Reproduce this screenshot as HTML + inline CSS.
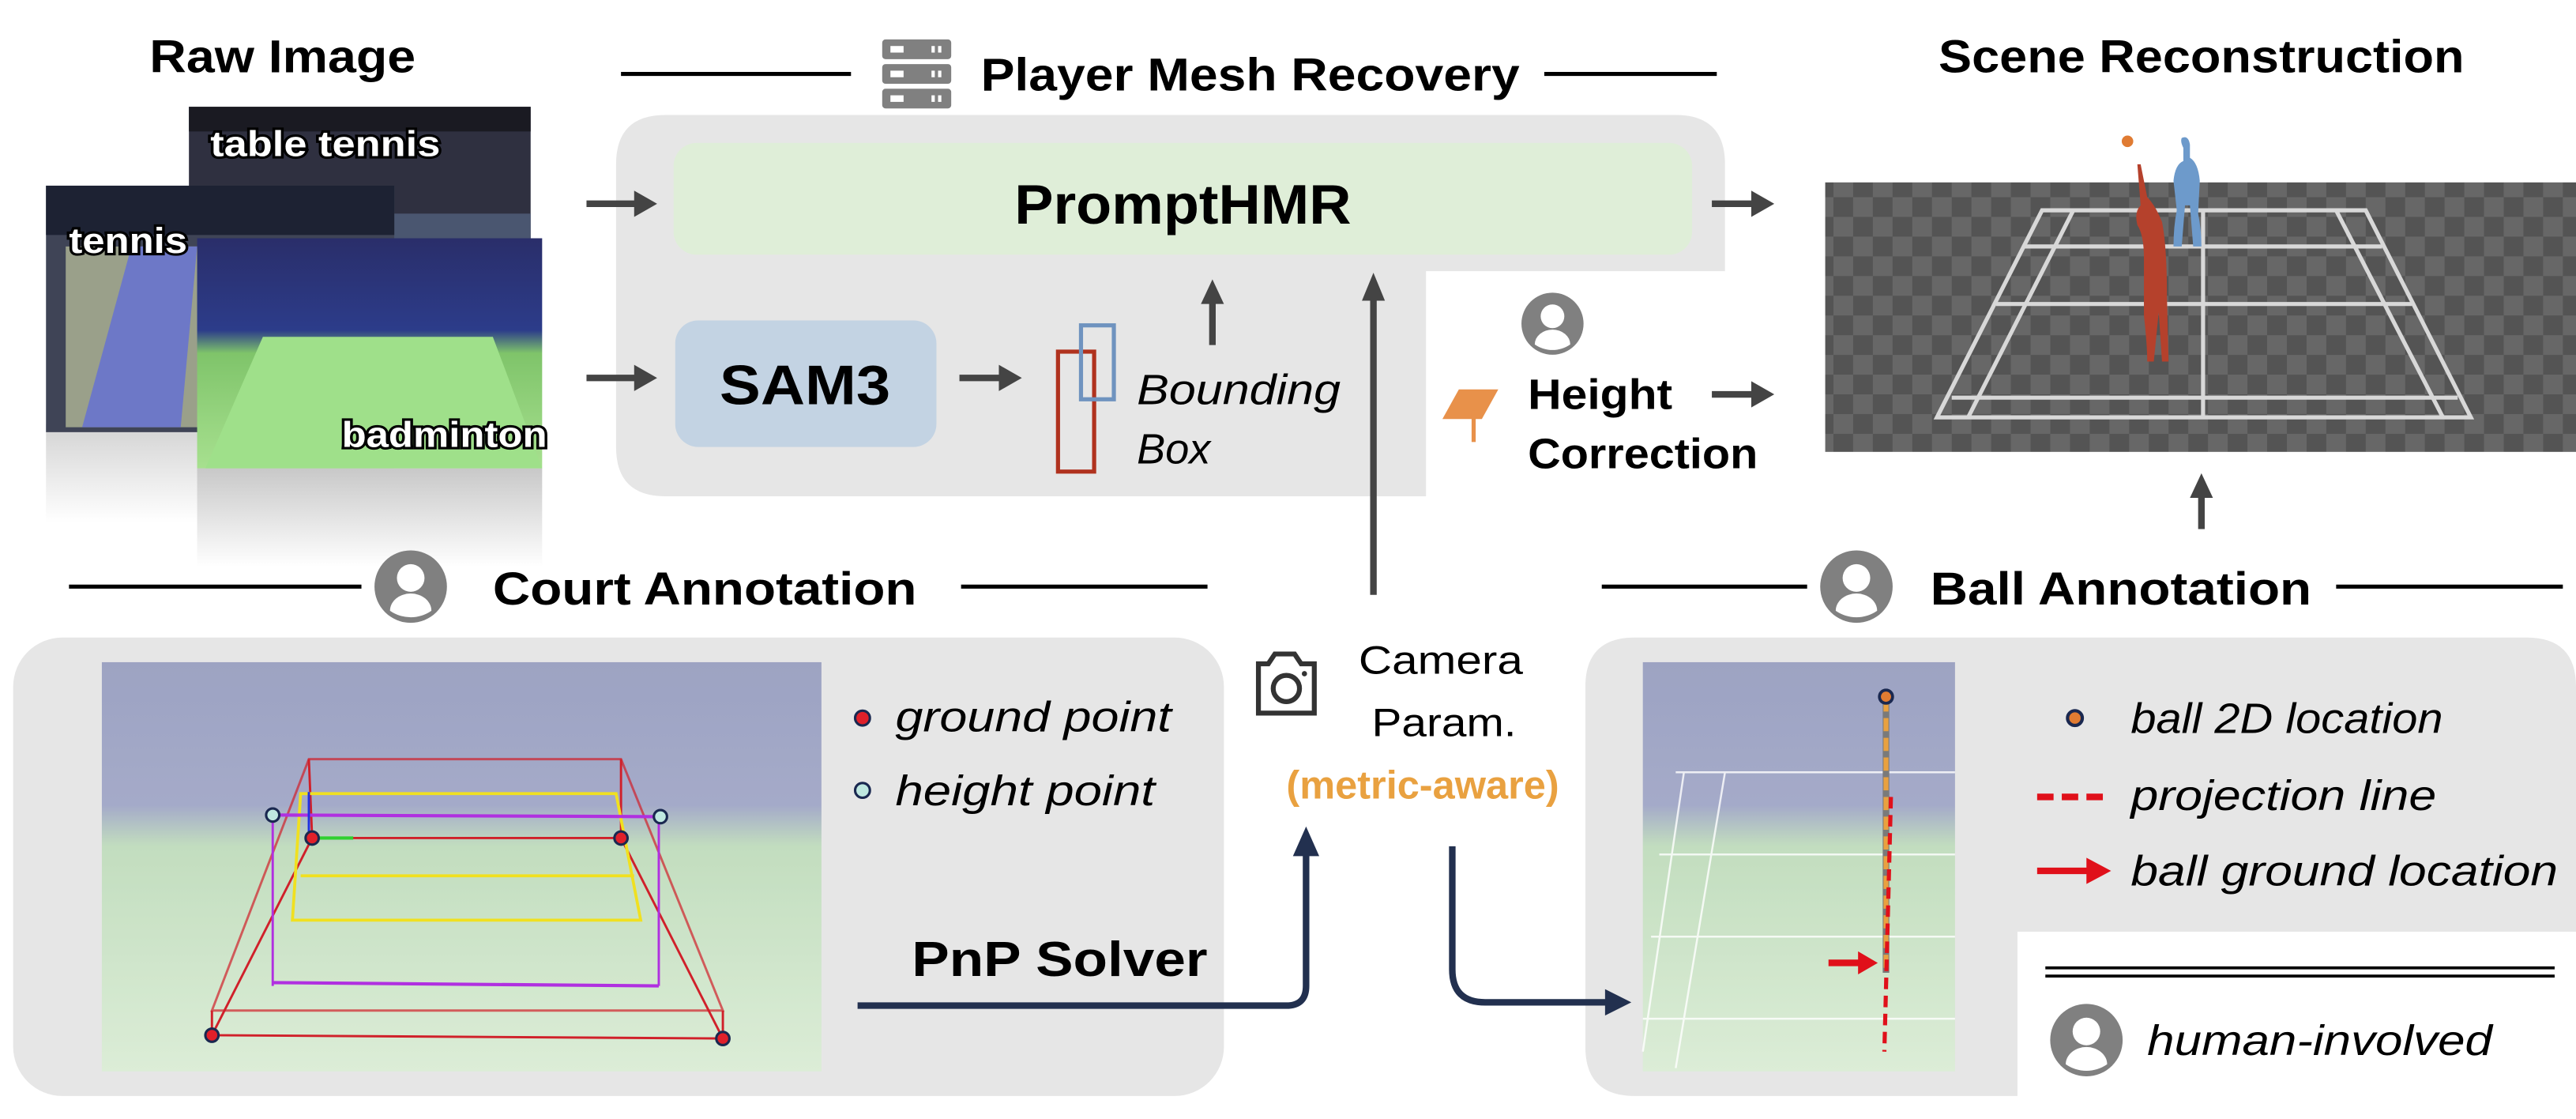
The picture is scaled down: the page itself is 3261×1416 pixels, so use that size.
<!DOCTYPE html>
<html><head><meta charset="utf-8"><style>
html,body{margin:0;padding:0;background:#fff;}
svg{display:block}
text{font-family:"Liberation Sans",sans-serif;}
.b{font-weight:bold}
.i{font-style:italic}
</style></head><body>
<svg width="3261" height="1416" viewBox="0 0 1568 681" preserveAspectRatio="none" xmlns="http://www.w3.org/2000/svg">
<defs>
<pattern id="chk" width="24" height="24" patternUnits="userSpaceOnUse">
<rect width="24" height="24" fill="#545454"/><rect width="12" height="12" fill="#676767"/><rect x="12" y="12" width="12" height="12" fill="#676767"/>
</pattern>
<linearGradient id="refl" x1="0" y1="0" x2="0" y2="1"><stop offset="0" stop-color="#c8c8c8"/><stop offset="1" stop-color="#fff"/></linearGradient>
<linearGradient id="court" x1="0" y1="0" x2="0" y2="1"><stop offset="0" stop-color="#8c93b8"/><stop offset="0.35" stop-color="#959cc0"/><stop offset="0.45" stop-color="#b8d8b4"/><stop offset="1" stop-color="#d6ead0"/></linearGradient>
<linearGradient id="bad" x1="0" y1="0" x2="0" y2="1"><stop offset="0" stop-color="#2a2e6a"/><stop offset="0.4" stop-color="#2c3c8a"/><stop offset="0.5" stop-color="#7fc46a"/><stop offset="1" stop-color="#a7e08f"/></linearGradient>
<g id="person"><circle r="21" fill="#808080"/><circle cy="-5" r="8" fill="#fff"/><path d="M-12 14 A12 10 0 0 1 12 14 A21 21 0 0 1 -12 14Z" fill="#fff"/></g>
</defs>

<!-- Headers -->
<text x="172" y="44" class="b" font-size="28" text-anchor="middle" textLength="162" lengthAdjust="spacingAndGlyphs">Raw Image</text>
<line x1="378" y1="45" x2="518" y2="45" stroke="#000" stroke-width="2.5"/>
<g fill="#808080"><rect x="537" y="24" width="42" height="12" rx="2"/><rect x="537" y="39" width="42" height="12" rx="2"/><rect x="537" y="54" width="42" height="12" rx="2"/></g>
<g fill="#fff"><rect x="542" y="28" width="8" height="4"/><rect x="542" y="43" width="8" height="4"/><rect x="542" y="58" width="8" height="4"/><rect x="567" y="28" width="2" height="4"/><rect x="571" y="28" width="2" height="4"/><rect x="567" y="43" width="2" height="4"/><rect x="571" y="43" width="2" height="4"/><rect x="567" y="58" width="2" height="4"/><rect x="571" y="58" width="2" height="4"/></g>
<text x="597" y="55" class="b" font-size="28" textLength="328" lengthAdjust="spacingAndGlyphs">Player Mesh Recovery</text>
<line x1="940" y1="45" x2="1045" y2="45" stroke="#000" stroke-width="2.5"/>
<text x="1340" y="44" class="b" font-size="28" text-anchor="middle" textLength="320" lengthAdjust="spacingAndGlyphs">Scene Reconstruction</text>

<!-- Raw images -->
<rect x="28" y="258" width="212" height="60" fill="url(#refl)" opacity="0.8"/>
<rect x="120" y="285" width="210" height="60" fill="url(#refl)"/>
<rect x="115" y="65" width="208" height="120" fill="#2f3040"/>
<rect x="115" y="65" width="208" height="15" fill="#1a1a22"/>
<rect x="200" y="130" width="123" height="55" fill="#4a5670"/>
<rect x="28" y="113" width="212" height="150" fill="#3f4456"/>
<rect x="28" y="113" width="212" height="30" fill="#1d2233"/>
<rect x="40" y="150" width="190" height="110" fill="#9aa08a"/>
<polygon points="80,150 120,150 110,260 50,260" fill="#6d78c7"/>
<rect x="120" y="145" width="210" height="140" fill="url(#bad)"/>
<polygon points="160,205 300,205 330,285 125,285" fill="#9fe08a"/>
<g font-weight="bold" font-size="22" fill="#fff" stroke="#000" stroke-width="3" paint-order="stroke">
<text x="128" y="95" textLength="140" lengthAdjust="spacingAndGlyphs">table tennis</text>
<text x="42" y="154" textLength="72" lengthAdjust="spacingAndGlyphs">tennis</text>
<text x="208" y="272" textLength="125" lengthAdjust="spacingAndGlyphs">badminton</text>
</g>

<!-- Player mesh panel -->
<path d="M405 70 H1020 Q1050 70 1050 100 V165 H868 V302 H405 Q375 302 375 272 V100 Q375 70 405 70Z" fill="#e6e6e6"/>
<rect x="410" y="87" width="620" height="68" rx="14" fill="#dfeed8"/>
<text x="720" y="136" class="b" font-size="34" text-anchor="middle" font-family="DejaVu Sans" textLength="205" lengthAdjust="spacingAndGlyphs">PromptHMR</text>
<rect x="411" y="195" width="159" height="77" rx="14" fill="#c3d3e3"/>
<text x="490" y="246" class="b" font-size="34" text-anchor="middle" font-family="DejaVu Sans" textLength="104" lengthAdjust="spacingAndGlyphs">SAM3</text>
<g stroke="#444" stroke-width="4" fill="#444">
<line x1="357" y1="124" x2="390" y2="124"/><polygon points="386,116 400,124 386,132" stroke="none"/>
<line x1="357" y1="230" x2="390" y2="230"/><polygon points="386,222 400,230 386,238" stroke="none"/>
<line x1="584" y1="230" x2="612" y2="230"/><polygon points="608,222 622,230 608,238" stroke="none"/>
<line x1="738" y1="210" x2="738" y2="182"/><polygon points="731,185 738,170 745,185" stroke="none"/>
<line x1="836" y1="362" x2="836" y2="180"/><polygon points="829,183 836,166 843,183" stroke="none"/>
<line x1="1042" y1="124" x2="1070" y2="124"/><polygon points="1066,116 1080,124 1066,132" stroke="none"/>
<line x1="1042" y1="240" x2="1070" y2="240"/><polygon points="1066,232 1080,240 1066,248" stroke="none"/>
<line x1="1340" y1="322" x2="1340" y2="300"/><polygon points="1333,303 1340,288 1347,303" stroke="none"/>
</g>
<rect x="644" y="214" width="22" height="73" fill="none" stroke="#b0321e" stroke-width="2.5"/>
<rect x="658" y="198" width="20" height="45" fill="none" stroke="#6f93bf" stroke-width="2.5"/>
<text x="692" y="246" class="i" font-size="26" textLength="124" lengthAdjust="spacingAndGlyphs">Bounding</text>
<text x="692" y="282" class="i" font-size="26">Box</text>
<use href="#person" x="0" y="0" transform="translate(945 197) scale(0.9)"/>
<polygon points="888,237 912,237 902,255 878,255" fill="#e8914a"/>
<line x1="897" y1="250" x2="897" y2="269" stroke="#e8914a" stroke-width="2.5"/>
<text x="930" y="249" class="b" font-size="26" textLength="88" lengthAdjust="spacingAndGlyphs">Height</text>
<text x="930" y="285" class="b" font-size="26" textLength="140" lengthAdjust="spacingAndGlyphs">Correction</text>

<!-- Scene -->
<rect x="1111" y="111" width="457" height="164" fill="url(#chk)"/>
<g fill="none" stroke="#d8d8d8" stroke-width="2.5">
<polygon points="1243,128 1440,128 1504,254 1179,254"/>
<line x1="1262" y1="128" x2="1198" y2="254"/><line x1="1422" y1="128" x2="1487" y2="254"/>
<line x1="1341" y1="128" x2="1341" y2="254"/>
<line x1="1232" y1="150" x2="1450" y2="150"/><line x1="1215" y1="185" x2="1468" y2="185"/>
<line x1="1188" y1="242" x2="1496" y2="242"/>
</g>
<path d="M1328 84 q4 -2 5 4 v8 q5 3 6 14 l-1 20 q2 10 2 20 h-5 l-2 -25 l-3 0 l-2 25 h-5 q0 -12 2 -22 l-2 -18 q1 -10 6 -12 v-8 q-2 -4 -1 -6z" fill="#6d9acb"/>
<circle cx="1295" cy="86" r="3.5" fill="#e07b32"/>
<path d="M1301 100 l2 25 q-4 4 -2 12 q4 6 4 20 l0 35 q2 18 2 28 h4 l3 -30 l2 30 h4 l-1 -40 q0 -30 -3 -45 q-4 -10 -9 -15 l-4 -20z" fill="#b5412c"/>

<!-- Court annotation header -->
<line x1="42" y1="357" x2="220" y2="357" stroke="#000" stroke-width="2.5"/>
<use href="#person" x="0" y="0" transform="translate(250 357) scale(1.05)"/>
<text x="300" y="368" class="b" font-size="28" textLength="258" lengthAdjust="spacingAndGlyphs">Court Annotation</text>
<line x1="585" y1="357" x2="735" y2="357" stroke="#000" stroke-width="2.5"/>

<!-- Court panel -->
<rect x="8" y="388" width="737" height="279" rx="30" fill="#e6e6e6"/>
<rect x="62" y="403" width="438" height="249" fill="url(#court)"/>
<rect x="62" y="403" width="438" height="249" fill="#fff" opacity="0.15"/>
<g fill="none" stroke-width="1.4">
<polygon points="188,462 378,462 440,615 129,615" stroke="#d0202a" opacity="0.7"/>
<polygon points="190,510 378,510 440,632 129,630" stroke="#d0202a"/>
<line x1="188" y1="462" x2="190" y2="510" stroke="#d0202a"/><line x1="378" y1="462" x2="378" y2="510" stroke="#d0202a"/>
<line x1="129" y1="615" x2="129" y2="630" stroke="#d0202a"/><line x1="440" y1="615" x2="440" y2="632" stroke="#d0202a"/>
<polygon points="183,483 375,483 390,560 178,560" stroke="#f0e020" stroke-width="1.8"/>
<line x1="183" y1="533" x2="386" y2="533" stroke="#f0e020" stroke-width="1.8"/>
<line x1="166" y1="496" x2="401" y2="497" stroke="#b030e0" stroke-width="2"/>
<line x1="166" y1="496" x2="166" y2="600" stroke="#b030e0"/><line x1="401" y1="497" x2="401" y2="600" stroke="#b030e0"/>
<line x1="166" y1="598" x2="401" y2="600" stroke="#b030e0" stroke-width="2"/>
<line x1="190" y1="510" x2="215" y2="510" stroke="#30d030" stroke-width="2"/>
<line x1="188" y1="510" x2="188" y2="482" stroke="#2030e0"/>
</g>
<g stroke="#1a2850" stroke-width="1.5">
<circle cx="190" cy="510" r="4" fill="#e0202a"/><circle cx="378" cy="510" r="4" fill="#e0202a"/>
<circle cx="129" cy="630" r="4" fill="#e0202a"/><circle cx="440" cy="632" r="4" fill="#e0202a"/>
<circle cx="166" cy="496" r="4" fill="#bfe8e0"/><circle cx="402" cy="497" r="4" fill="#bfe8e0"/>
<circle cx="525" cy="437" r="4.5" fill="#e0202a"/><circle cx="525" cy="481" r="4.5" fill="#bfe8e0"/>
</g>
<text x="545" y="445" class="i" font-size="26" textLength="168" lengthAdjust="spacingAndGlyphs">ground point</text>
<text x="545" y="490" class="i" font-size="26" textLength="158" lengthAdjust="spacingAndGlyphs">height point</text>
<text x="555" y="594" class="b" font-size="30" font-family="DejaVu Sans" textLength="180" lengthAdjust="spacingAndGlyphs">PnP Solver</text>

<!-- camera -->
<g fill="none" stroke="#333" stroke-width="3"><path d="M766 404 V434 H800 V404 H792 L788 398 H776 L772 404Z"/><circle cx="783" cy="419" r="8"/></g>
<circle cx="794" cy="410" r="1.6" fill="#333"/>
<text x="827" y="410" font-size="24" textLength="100" lengthAdjust="spacingAndGlyphs">Camera</text>
<text x="835" y="448" font-size="24" textLength="88" lengthAdjust="spacingAndGlyphs">Param.</text>
<text x="866" y="486" class="b" font-size="24" fill="#e9a140" text-anchor="middle" textLength="166" lengthAdjust="spacingAndGlyphs">(metric-aware)</text>

<!-- Ball annotation -->
<line x1="975" y1="357" x2="1100" y2="357" stroke="#000" stroke-width="2.5"/>
<use href="#person" x="0" y="0" transform="translate(1130 357) scale(1.05)"/>
<text x="1175" y="368" class="b" font-size="28" textLength="232" lengthAdjust="spacingAndGlyphs">Ball Annotation</text>
<line x1="1422" y1="357" x2="1560" y2="357" stroke="#000" stroke-width="2.5"/>
<path d="M995 388 H1538 Q1568 388 1568 418 V567 H1228 V667 H995 Q965 667 965 637 V418 Q965 388 995 388Z" fill="#e6e6e6"/>
<rect x="1000" y="403" width="190" height="249" fill="url(#court)"/>
<rect x="1000" y="403" width="190" height="249" fill="#fff" opacity="0.15"/>
<g stroke="#fff" stroke-width="1.2" opacity="0.8" fill="none"><path d="M1025 470 L1000 640 M1050 470 L1020 650 M1020 470 H1190 M1010 520 H1190 M1005 570 H1190 M1000 620 H1190"/></g>
<line x1="1148" y1="425" x2="1148" y2="592" stroke="#7a7a7a" stroke-width="4"/>
<line x1="1148" y1="425" x2="1148" y2="592" stroke="#e9a140" stroke-width="3" stroke-dasharray="8 4"/>
<line x1="1151" y1="485" x2="1147" y2="640" stroke="#e0101a" stroke-width="2.5" stroke-dasharray="7 4"/>
<circle cx="1148" cy="424" r="4" fill="#e07b32" stroke="#1a2850" stroke-width="1.8"/>
<line x1="1113" y1="586" x2="1133" y2="586" stroke="#e0101a" stroke-width="4"/><polygon points="1131,579 1143,586 1131,593" fill="#e0101a"/>
<circle cx="1263" cy="437" r="4.5" fill="#e07b32" stroke="#1a2850" stroke-width="2"/>
<text x="1297" y="446" class="i" font-size="26" textLength="190" lengthAdjust="spacingAndGlyphs">ball 2D location</text>
<line x1="1240" y1="485" x2="1285" y2="485" stroke="#e0101a" stroke-width="4" stroke-dasharray="10 5"/>
<text x="1297" y="493" class="i" font-size="26" textLength="186" lengthAdjust="spacingAndGlyphs">projection line</text>
<line x1="1240" y1="530" x2="1272" y2="530" stroke="#e0101a" stroke-width="4"/><polygon points="1270,522 1285,530 1270,538" fill="#e0101a"/>
<text x="1297" y="539" class="i" font-size="26" textLength="260" lengthAdjust="spacingAndGlyphs">ball ground location</text>
<line x1="1245" y1="589" x2="1555" y2="589" stroke="#000" stroke-width="1.8"/>
<line x1="1245" y1="594" x2="1555" y2="594" stroke="#000" stroke-width="1.8"/>
<use href="#person" x="0" y="0" transform="translate(1270 633) scale(1.05)"/>
<text x="1307" y="642" class="i" font-size="26" textLength="210" lengthAdjust="spacingAndGlyphs">human-involved</text>

<!-- navy connectors on top -->
<path d="M522 612 H783 Q795 612 795 600 V518" fill="none" stroke="#22304f" stroke-width="4"/>
<polygon points="787,521 795,503 803,521" fill="#22304f"/>
<path d="M884 515 V590 Q884 610 904 610 H980" fill="none" stroke="#22304f" stroke-width="4"/>
<polygon points="977,602 993,610 977,618" fill="#22304f"/>
</svg>
</body></html>
